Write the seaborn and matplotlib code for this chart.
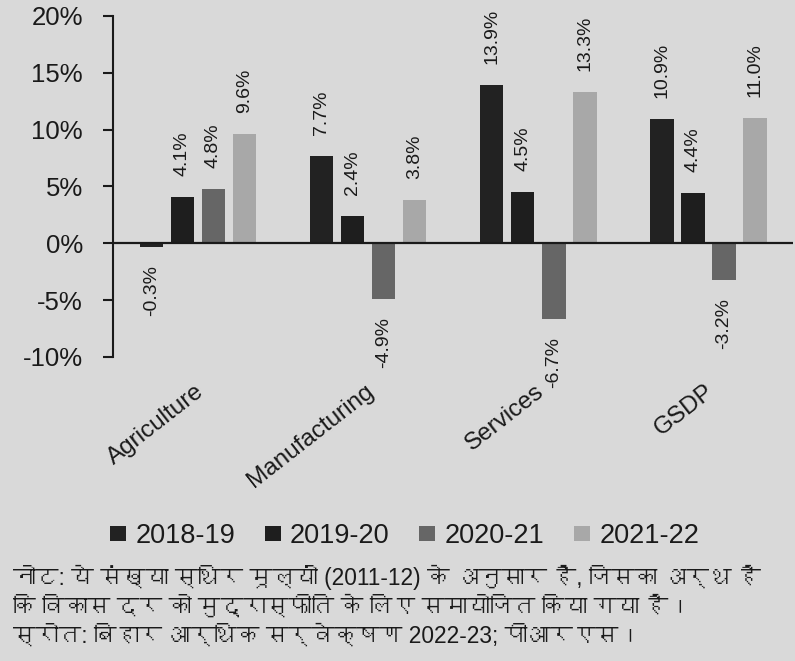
"""
Bihar sector-wise growth rates (constant prices), 2018-19 to 2021-22
"""

import pandas as pd
import matplotlib
matplotlib.use('Agg')
import matplotlib.pyplot as plt
import matplotlib.transforms as mtransforms
import seaborn as sns
from matplotlib import font_manager
from fontTools.ttLib import TTFont

# --- 0. Data ---
sectors = ['Agriculture', 'Manufacturing', 'Services', 'GSDP']
years = ['2018-19', '2019-20', '2020-21', '2021-22']
growth_1819 = [-0.3, 7.7, 13.9, 10.9]
growth_1920 = [4.1, 2.4, 4.5, 4.4]
growth_2021 = [4.8, -4.9, -6.7, -3.2]
growth_2122 = [9.6, 3.8, 13.3, 11.0]
y_ticks = [-10, -5, 0, 5, 10, 15, 20]

note_lines = [
    'नोट: ये संख्या स्थिर मूल्यों (2011-12) के अनुसार हैं, जिसका अर्थ है',
    'कि विकास दर को मुद्रास्फीति के लिए समायोजित किया गया है।',
    'स्रोत: बिहार आर्थिक सर्वेक्षण 2022-23; पीआरएस।',
]

df = pd.DataFrame({
    'sector': sectors * 4,
    'year': [y for y in years for _ in sectors],
    'growth': growth_1819 + growth_1920 + growth_2021 + growth_2122,
})

palette = {'2018-19': '#222222', '2019-20': '#1e1e1e',
           '2020-21': '#666666', '2021-22': '#a8a8a8'}
bg = '#d9d9d9'
ink = '#1a1a1a'


# --- 1. Fonts (need something with Devanagari for the note) ---
def pick_font(sample):
    for entry in font_manager.fontManager.ttflist:
        try:
            cmap = TTFont(entry.fname, fontNumber=0, lazy=True).getBestCmap() or {}
        except Exception:
            continue
        if all(ord(c) in cmap for c in sample):
            return entry.name
    return None


hindi_font = pick_font('नोटसंख्याि')
sns.set_style('white')
families = ['Liberation Sans']
if hindi_font:
    families.append(hindi_font)
families.append('DejaVu Sans')
plt.rcParams['font.family'] = families


# --- 2. Plot ---
fig = plt.figure(figsize=(7.95, 6.61), dpi=100, facecolor=bg)
ax = fig.add_axes([0.142, 0.46, 0.856, 0.516], facecolor=bg)

sns.barplot(data=df, x='sector', y='growth', hue='year', order=sectors,
            hue_order=years, palette=palette, width=0.73, gap=0.24,
            saturation=1, linewidth=0, ax=ax)

ax.set_ylim(-10, 20)
ax.set_xlim(-0.5, 3.5)
ax.set_yticks(y_ticks)
ax.set_yticklabels([f'{v}%' for v in y_ticks])
ax.axhline(0, color=ink, lw=1.6, zorder=3)

for side in ['top', 'right', 'bottom']:
    ax.spines[side].set_visible(False)
ax.spines['left'].set_color(ink)
ax.spines['left'].set_linewidth(1.5)
ax.tick_params(axis='y', direction='out', length=7.5, width=1.5, color=ink,
               pad=14, labelsize=18.5, labelcolor=ink, left=True)
ax.tick_params(axis='x', length=0, pad=17, labelsize=17.5, labelcolor=ink)
# slanted category names, nudged a little right of the group centre
nudge = mtransforms.ScaledTranslation(0.1, 0, fig.dpi_scale_trans)
for lab in ax.get_xticklabels():
    lab.set_rotation(38)
    lab.set_ha('right')
    lab.set_transform(lab.get_transform() + nudge)
ax.set_xlabel('')
ax.set_ylabel('')

# value labels, rotated, just past the bar end
for bars in ax.containers:
    for bar in bars:
        val = bar.get_height()
        x = bar.get_x() + bar.get_width() / 2
        ax.annotate(f'{val:.1f}%', (x, val), xytext=(0, 15 if val >= 0 else -13),
                    textcoords='offset points', rotation=90, ha='center',
                    va='bottom' if val >= 0 else 'top', fontsize=14, color=ink)

# legend below the category labels
handles, labels = ax.get_legend_handles_labels()
ax.legend_.remove()
fig.legend(handles, labels, loc='center', bbox_to_anchor=(0.509, 0.189), ncol=4,
           frameon=False, fontsize=19.5, handlelength=0.58, handleheight=0.46,
           handletextpad=0.35, columnspacing=1.1, labelcolor=ink)

# note and source
for i, line in enumerate(note_lines):
    fig.text(0.016, 0.126 - i * 0.044, line, ha='left', va='center',
             fontsize=16.4, color=ink)

fig.savefig('out.png', dpi=100, facecolor=bg)
